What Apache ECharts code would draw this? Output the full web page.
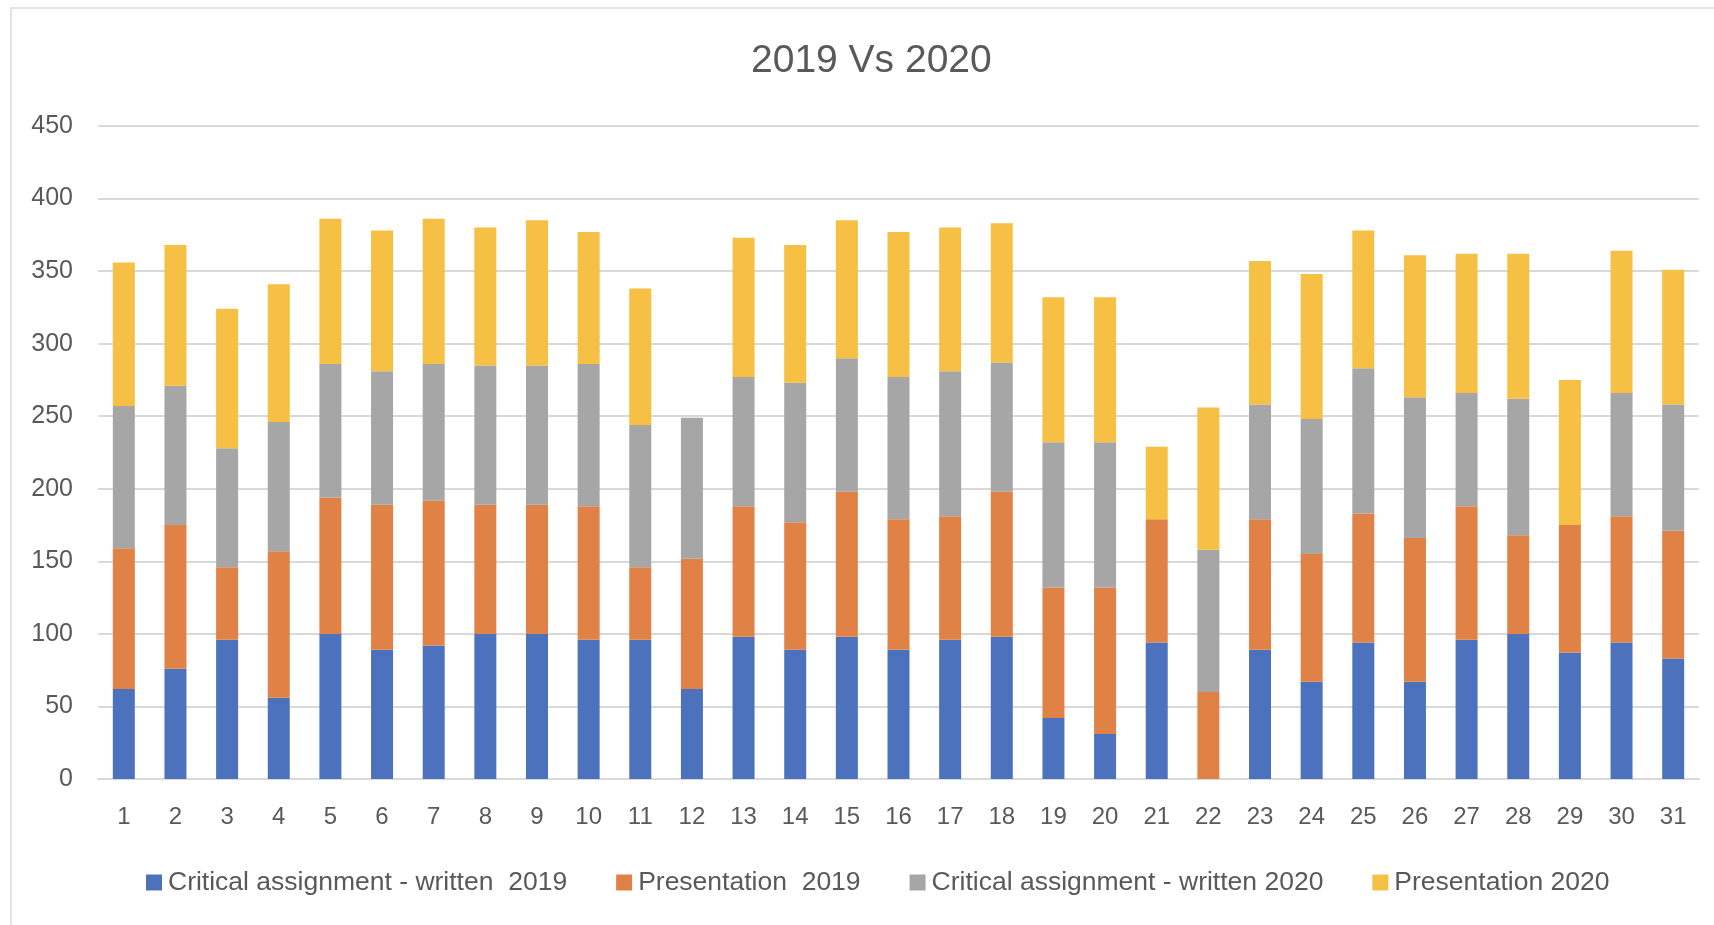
<!DOCTYPE html>
<html>
<head>
<meta charset="utf-8">
<title>2019 Vs 2020</title>
<script src="https://cdn.jsdelivr.net/npm/echarts@6/dist/echarts.min.js"></script>
<style>
  html, body { margin: 0; padding: 0; background: #fff; }
  #frame {
    position: absolute; left: 10px; top: 7px; width: 1710px; height: 925px;
    border-top: 2px solid #e3e3e3; border-left: 2px solid #e3e3e3;
  }
  #chart { position: absolute; left: 0; top: 0; width: 1714px; height: 925px; }
</style>
</head>
<body>
<div id="frame"></div>
<div id="chart"></div>
<script>
// days 1..31
var days = ['1','2','3','4','5','6','7','8','9','10','11','12','13','14','15','16',
  '17','18','19','20','21','22','23','24','25','26','27','28','29','30','31']

// values
var written2019 = [62, 76, 96, 56, 100, 89, 92, 100, 100, 96, 96, 62, 98, 89, 98, 89,
  96, 98, 42, 31, 94, 0, 89, 67, 94, 67, 96, 100, 87, 94, 83]
var presentation2019 = [97, 99, 50, 101, 94, 100, 100, 89, 89, 92, 50, 90, 90, 88, 100, 90,
  85, 100, 90, 101, 85, 60, 90, 88, 89, 99, 92, 68, 88, 87, 88]
var written2020 = [98, 96, 82, 89, 92, 92, 94, 96, 96, 98, 98, 97, 89, 96, 92, 98,
  100, 89, 100, 100, 0, 98, 79, 93, 100, 97, 78, 94, 0, 85, 87]
var presentation2020 = [99, 97, 96, 95, 100, 97, 100, 95, 100, 91, 94, 0, 96, 95, 95, 100,
  99, 96, 100, 100, 50, 98, 99, 100, 95, 98, 96, 100, 100, 98, 93]

var seriesNames = ['Critical assignment - written  2019', 'Presentation  2019',
  'Critical assignment - written 2020', 'Presentation 2020']
var colors = ['#4C72BD', '#E08245', '#A6A6A6', '#F5C043']

var font = 'Liberation Sans'

var myChart = echarts.init(document.getElementById('chart'))

function bar(i, data) {
  return {
    name: seriesNames[i],
    type: 'bar',
    stack: 'total',
    barWidth: 22,
    data: data,
    itemStyle: { color: colors[i] }
  }
}

myChart.setOption({
  animation: false,
  color: colors,
  title: {
    text: '2019 Vs 2020',
    left: 746,
    top: 37,
    textStyle: { fontFamily: font, fontSize: 39, fontWeight: 'normal', color: '#595959' }
  },
  legend: {
    left: 141,
    top: 864,
    itemWidth: 16,
    itemHeight: 16,
    itemGap: 49,
    icon: 'rect',
    textStyle: { fontFamily: font, fontSize: 26.5, color: '#595959', padding: [0, 0, 0, 1] },
    data: seriesNames
  },
  grid: { left: 98, right: 15, top: 126, bottom: 146 },
  xAxis: {
    type: 'category',
    data: days,
    axisLine: { lineStyle: { color: '#d9d9d9', width: 2 } },
    axisTick: { show: false },
    axisLabel: { fontFamily: font, fontSize: 24, color: '#595959', margin: 26 }
  },
  yAxis: {
    type: 'value',
    min: 0,
    max: 450,
    interval: 50,
    axisLine: { show: false },
    axisTick: { show: false },
    splitLine: { lineStyle: { color: '#d9d9d9', width: 2 } },
    axisLabel: { fontFamily: font, fontSize: 25, color: '#595959', margin: 25 }
  },
  series: [
    bar(0, written2019),
    bar(1, presentation2019),
    bar(2, written2020),
    bar(3, presentation2020)
  ]
})
</script>
</body>
</html>
